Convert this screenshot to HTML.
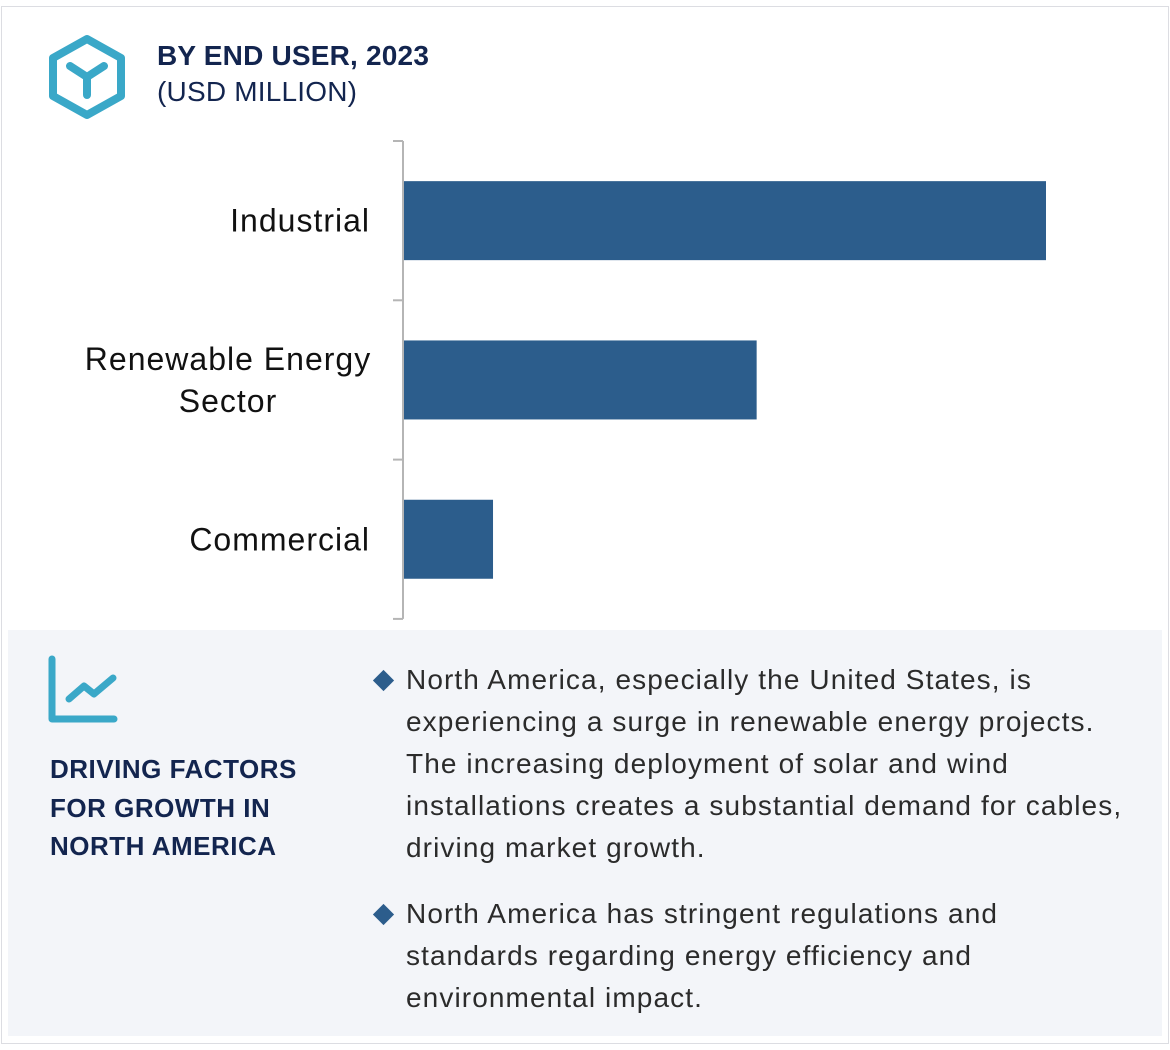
<!DOCTYPE html>
<html><head><meta charset="utf-8"><style>
*{margin:0;padding:0;box-sizing:border-box}
body{width:1170px;height:1050px;background:#fff;font-family:"Liberation Sans",Arial,sans-serif;position:relative;overflow:hidden}
.frame{position:absolute;left:1px;top:6px;width:1168px;height:1038px;border:1.5px solid #dcdde2}
.title{position:absolute;left:157px;top:38px;color:#13254f;font-size:28px;line-height:36px;letter-spacing:0.2px}
.panel{position:absolute;left:8px;top:630px;width:1154px;height:406px;background:#f3f5f9}
.df{position:absolute;left:50px;top:750px;color:#13254f;font-weight:bold;font-size:26px;line-height:38.5px;letter-spacing:0.5px}
.bul{position:absolute;left:406px;color:#2b2b2b;font-size:28px;line-height:42px;width:760px;white-space:nowrap;letter-spacing:1.1px}
.dia{position:absolute;left:376px;width:15px;height:15px;background:#2c5d8c;transform:rotate(45deg)}
</style></head><body>
<div class="frame"></div>
<svg style="position:absolute;left:46px;top:33px" width="82" height="88">
<polygon points="41,6 75,25 75,63 41,82 7,63 7,25" fill="none" stroke="#3aa8c8" stroke-width="8" stroke-linejoin="round"/>
<path d="M24,33 L41,44 L58,33 M41,44 L41,62" fill="none" stroke="#3aa8c8" stroke-width="8" stroke-linecap="round"/>
</svg>
<div class="title"><b>BY END USER, 2023</b><br>(USD MILLION)</div>
<svg id="chart" style="position:absolute;left:0;top:0" width="1170" height="630"></svg>
<div class="panel"></div>
<svg style="position:absolute;left:46px;top:653px" width="74" height="72">
<path d="M6,6 V66 H68" fill="none" stroke="#3aa8c8" stroke-width="7" stroke-linecap="round" stroke-linejoin="round"/>
<path d="M23,46 L38,33 L48,41 L67,25" fill="none" stroke="#3aa8c8" stroke-width="7" stroke-linecap="round" stroke-linejoin="round"/>
</svg>
<div class="df">DRIVING FACTORS<br>FOR GROWTH IN<br>NORTH AMERICA</div>
<div class="dia" style="top:673px"></div>
<div class="bul" style="top:659px">North America, especially the United States, is<br>experiencing a surge in renewable energy projects.<br>The increasing deployment of solar and wind<br>installations creates a substantial demand for cables,<br>driving market growth.</div>
<div class="dia" style="top:907px"></div>
<div class="bul" style="top:893px">North America has stringent regulations and<br>standards regarding energy efficiency and<br>environmental impact.</div>
<script>
const categories=["Industrial","Renewable Energy Sector","Commercial"];
const labelLines=[["Industrial"],["Renewable Energy","Sector"],["Commercial"]];
const values=[100,55,14];
const svg=document.getElementById('chart');const NS='http://www.w3.org/2000/svg';
const x0=403,xMax=100,wMax=643,top0=141,band=159.3,barH=79;
const xs=v=>x0+v/xMax*wMax;
function mk(t,a){const e=document.createElementNS(NS,t);for(const k in a)e.setAttribute(k,a[k]);svg.appendChild(e);return e;}
const ax=mk('line',{x1:x0,y1:top0,x2:x0,y2:top0+band*3,stroke:'#b5b5b5','stroke-width':2});


for(let i=0;i<=3;i++){const t=mk('line',{x1:x0-10,x2:x0,y1:top0+band*i,y2:top0+band*i,stroke:'#b5b5b5','stroke-width':2});

}
categories.forEach((c,i)=>{
const yc=top0+band*i+band/2;
const r=mk('rect',{x:x0+1,y:yc-barH/2,width:xs(values[i])-x0-1,height:barH,fill:'#2c5d8c'});


const ls=labelLines[i];
ls.forEach((l,j)=>{const t=mk('text',{x:ls.length>1?228:370,y:yc+11+(j-(ls.length-1)/2)*42,'text-anchor':ls.length>1?'middle':'end','font-size':32,'letter-spacing':1,fill:'#111','font-family':'Liberation Sans, sans-serif'});t.textContent=l;

});
});
</script>
</body></html>
